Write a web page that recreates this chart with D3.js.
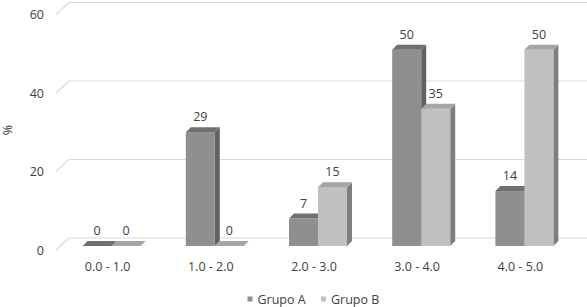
<!DOCTYPE html>
<html>
<head>
<meta charset="UTF-8">
<script src="https://d3js.org/d3.v7.min.js"></script>
<style>
  body { margin: 0; background: #fff; }
  text { font-family: "Open Sans", "Noto Sans", sans-serif; fill: #404040; }
</style>
</head>
<body>
<svg width="587" height="307"></svg>
<script>
// data
const categories = ["0.0 - 1.0", "1.0 - 2.0", "2.0 - 3.0", "3.0 - 4.0", "4.0 - 5.0"];
const series = ["Grupo A", "Grupo B"];
const grupoA = [0, 29, 7, 50, 14];
const grupoB = [0, 0, 15, 35, 50];
const yTicks = [0, 20, 40, 60];

const colors = {
  "Grupo A": { face: "#8f8f8f", top: "#707070", side: "#616161" },
  "Grupo B": { face: "#c0c0c0", top: "#a5a5a5", side: "#7e7e7e" }
};

const svg = d3.select("svg");

// wall plane scales (back), 3d offsets from the wall
const x = d3.scaleBand().domain(categories).range([68, 584]);
const y = d3.scaleLinear().domain([0, 60]).range([238, 2.5]);
const front = { dx: -13, dy: 12 };   // front edge of floor
const barFront = { dx: -8, dy: 8 };
const depth = 5;
const barW = 29;

// gridlines on the back wall + floor diagonals
yTicks.forEach(t => {
  const yy = y(t);
  svg.append("path")
    .attr("d", `M${56},${yy + front.dy}L${69},${yy}L587,${yy}`)
    .attr("fill", "none")
    .attr("stroke", "#d9d9d9")
    .attr("stroke-width", 1.2);
  svg.append("text")
    .attr("x", 44)
    .attr("y", yy + front.dy + 4.5)
    .attr("text-anchor", "end")
    .style("font-size", "12.5px")
    .text(t);
});

// y axis title
svg.append("text")
  .attr("transform", "translate(12,130) rotate(-90)")
  .attr("text-anchor", "middle")
  .style("font-size", "12.5px")
  .style("fill", "#1f2a44")
  .text("%");

// bars
const bars = [];
categories.forEach((c, i) => {
  bars.push({ cat: c, s: "Grupo A", v: grupoA[i], k: 0 });
  bars.push({ cat: c, s: "Grupo B", v: grupoB[i], k: 1 });
});

bars.forEach(d => {
  const cx = x(d.cat) + x.bandwidth() / 2 + barFront.dx;
  const x0 = cx - barW + d.k * barW;
  const x1 = x0 + barW;
  const yb = y(0) + barFront.dy;
  const yt = y(d.v) + barFront.dy;
  const col = colors[d.s];
  const g = svg.append("g");
  // side
  g.append("path")
    .attr("d", `M${x1},${yt}L${x1 + depth},${yt - depth}L${x1 + depth},${yb - depth}L${x1},${yb}Z`)
    .attr("fill", col.side);
  // front
  if (d.v > 0) {
    g.append("rect")
      .attr("x", x0).attr("y", yt)
      .attr("width", barW).attr("height", yb - yt)
      .attr("fill", col.face);
  }
  // top
  g.append("path")
    .attr("d", `M${x0},${yt}L${x0 + depth},${yt - depth}L${x1 + depth},${yt - depth}L${x1},${yt}Z`)
    .attr("fill", col.top);
  // value label
  svg.append("text")
    .attr("x", (x0 + x1) / 2)
    .attr("y", yt - 11)
    .attr("text-anchor", "middle")
    .style("font-size", "12.5px")
    .text(d.v);
});

// category labels
categories.forEach(c => {
  svg.append("text")
    .attr("x", x(c) + x.bandwidth() / 2 + barFront.dx - 4)
    .attr("y", 271)
    .attr("text-anchor", "middle")
    .style("font-size", "12.5px")
    .text(c);
});

// legend
const lx = [247.5, 321];
series.forEach((s, i) => {
  svg.append("rect")
    .attr("x", lx[i]).attr("y", 296.5)
    .attr("width", 5).attr("height", 5)
    .attr("fill", colors[s].face);
  svg.append("text")
    .attr("x", lx[i] + 10)
    .attr("y", 303.5)
    .style("font-size", "12.5px")
    .text(s);
});
</script>
</body>
</html>
